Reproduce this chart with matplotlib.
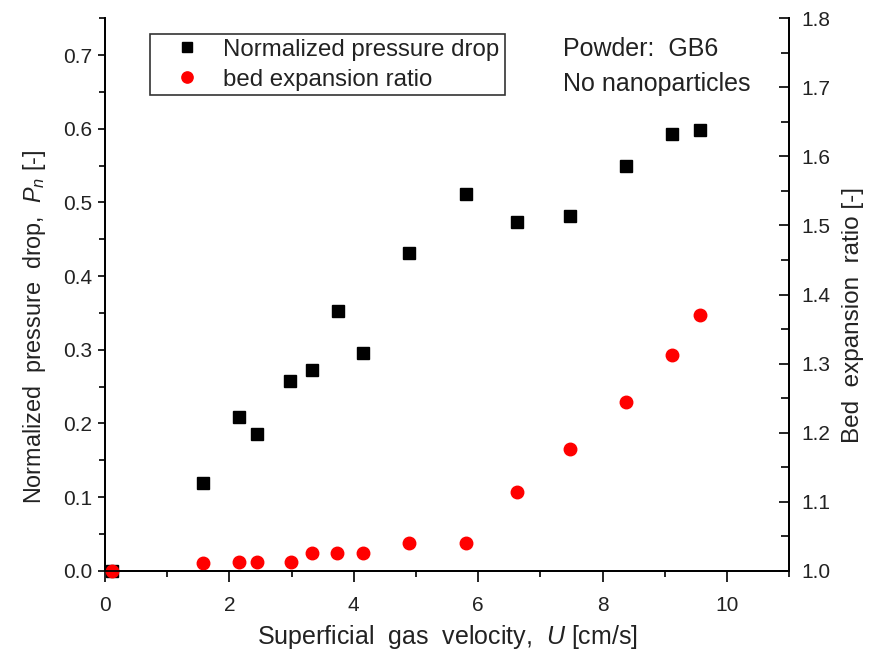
import matplotlib
matplotlib.use("Agg")
import matplotlib.pyplot as plt
from matplotlib.ticker import MultipleLocator

# data
u_pressure = [0.11, 1.57, 2.15, 2.44, 2.97, 3.32, 3.74, 4.14, 4.88, 5.80, 6.62, 7.47, 8.37, 9.12, 9.56]
pn = [0.0, 0.119, 0.208, 0.186, 0.258, 0.273, 0.353, 0.296, 0.432, 0.511, 0.474, 0.482, 0.550, 0.593, 0.598]

u_bed = [0.11, 1.57, 2.15, 2.45, 2.99, 3.32, 3.73, 4.14, 4.89, 5.81, 6.62, 7.47, 8.37, 9.12, 9.56]
bed_ratio = [1.0, 1.011, 1.012, 1.012, 1.012, 1.025, 1.025, 1.025, 1.040, 1.040, 1.114, 1.176, 1.244, 1.313, 1.370]

plt.rcParams['font.family'] = ['Liberation Sans', 'DejaVu Sans']
plt.rcParams['mathtext.fontset'] = 'custom'
plt.rcParams['mathtext.rm'] = 'Liberation Sans'
plt.rcParams['mathtext.it'] = 'Liberation Sans:italic'

txt = '#222222'

fig = plt.figure(figsize=(8.73, 6.57), dpi=100)
ax = fig.add_axes([0.1203, 0.1314, 0.7837, 0.8407])
ax2 = ax.twinx()

h1, = ax.plot(u_pressure, pn, ls='none', marker='s', ms=8, color='black',
              label='Normalized pressure drop', clip_on=False)
h2, = ax2.plot(u_bed, bed_ratio, ls='none', marker='o', ms=9, color='red',
               mec='red', label='bed expansion ratio', clip_on=False)

ax.set_xlim(0, 11)
ax.set_ylim(0, 0.75)
ax2.set_ylim(1.0, 1.8)

ax.xaxis.set_major_locator(MultipleLocator(2))
ax.xaxis.set_minor_locator(MultipleLocator(1))
ax.yaxis.set_major_locator(MultipleLocator(0.1))
ax.yaxis.set_minor_locator(MultipleLocator(0.05))
ax2.yaxis.set_major_locator(MultipleLocator(0.1))
ax2.yaxis.set_minor_locator(MultipleLocator(0.05))

for a in (ax, ax2):
    a.spines['top'].set_visible(False)
    for s in a.spines.values():
        s.set_linewidth(1.3)

ax.tick_params(axis='x', which='major', direction='out', length=8, width=1.2,
               labelsize=15, labelcolor=txt, pad=10)
ax.tick_params(axis='x', which='minor', direction='out', length=4.5, width=1.2)
ax.tick_params(axis='y', which='major', direction='out', length=5, width=1.2,
               labelsize=15, labelcolor=txt, pad=4)
ax.tick_params(axis='y', which='minor', direction='out', length=4.5, width=1.2)
ax2.tick_params(axis='y', which='major', direction='in', length=7, width=1.2,
                labelsize=15, labelcolor=txt, pad=9)
ax2.tick_params(axis='y', which='minor', direction='in', length=5.5, width=1.2)

ax.xaxis.set_major_formatter(plt.FuncFormatter(lambda v, p: f"{v:.0f}"))
ax.yaxis.set_major_formatter(plt.FuncFormatter(lambda v, p: f"{v:.1f}"))
ax2.yaxis.set_major_formatter(plt.FuncFormatter(lambda v, p: f"{v:.1f}"))

ax.set_xlabel(r"Superficial  gas  velocity,  $\it{U}$ [cm/s]", fontsize=18, color=txt, labelpad=6)
ax.set_ylabel(r"Normalized  pressure  drop,  $P_n$ [-]", fontsize=16.8, color=txt, labelpad=11)
ax.yaxis.label.set_y(0.442)
ax2.set_ylabel("Bed  expansion  ratio [-]", fontsize=17.5, color=txt, labelpad=8)
ax2.yaxis.label.set_y(0.463)

leg = ax2.legend(handles=[h1, h2], loc='upper left', bbox_to_anchor=(0.066, 0.972),
                 fontsize=17.3, frameon=True, fancybox=False, edgecolor='black',
                 borderpad=0.2, handletextpad=0.15, labelspacing=0.33,
                 handlelength=2.7, borderaxespad=0, markerscale=0.9)
leg.get_frame().set_linewidth(1.2)
for t in leg.get_texts():
    t.set_color(txt)

ax.text(0.669, 0.966, "Powder:  GB6", transform=ax.transAxes, fontsize=18,
        color=txt, va='top', ha='left')
ax.text(0.669, 0.902, "No nanoparticles", transform=ax.transAxes, fontsize=18,
        color=txt, va='top', ha='left')

fig.savefig("out.png", dpi=100)
